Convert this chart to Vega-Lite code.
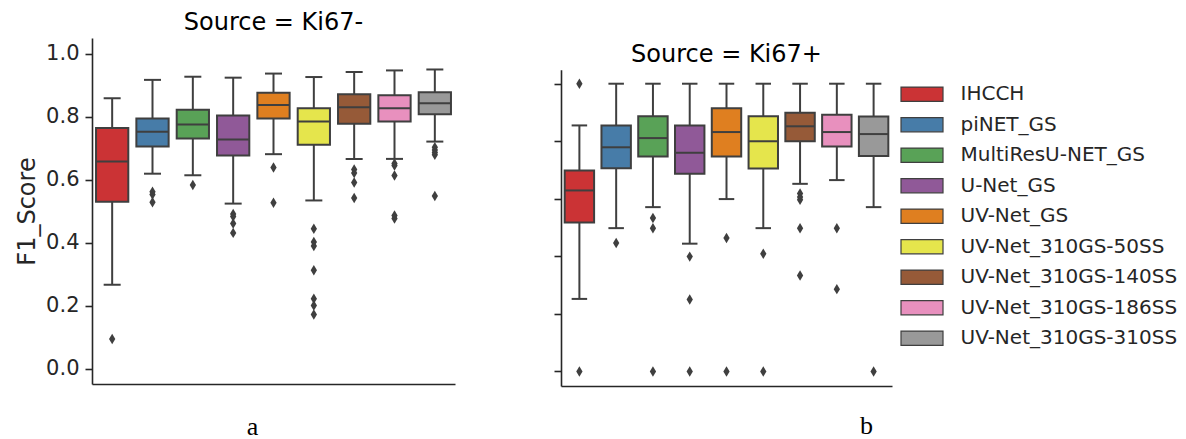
{
  "$schema": "https://vega.github.io/schema/vega-lite/v6.json",
  "background": "white",
  "padding": {"left": 15, "top": 11, "right": 0, "bottom": 0},
  "autosize": {"type": "pad"},
  "spacing": 98,
  "config": {
    "font": "DejaVu Sans",
    "view": {"stroke": null},
    "axis": {
      "domainColor": "#262626", "domainWidth": 1.6,
      "tickColor": "#262626", "tickWidth": 1.6, "tickSize": 7,
      "labelFontSize": 21, "labelColor": "#262626", "labelFont": "DejaVu Sans",
      "titleFontSize": 24, "titleFontWeight": "normal", "titleColor": "#262626", "titleFont": "DejaVu Sans",
      "grid": false
    }
  },
  "datasets": {
    "boxes": [
      {"Source": "Ki67-", "Model": "IHCCH", "lower": 0.266, "q1": 0.530, "median": 0.658, "q3": 0.764, "upper": 0.859},
      {"Source": "Ki67-", "Model": "piNET_GS", "lower": 0.619, "q1": 0.705, "median": 0.752, "q3": 0.794, "upper": 0.917},
      {"Source": "Ki67-", "Model": "MultiResU-NET_GS", "lower": 0.614, "q1": 0.731, "median": 0.775, "q3": 0.822, "upper": 0.927},
      {"Source": "Ki67-", "Model": "U-Net_GS", "lower": 0.524, "q1": 0.677, "median": 0.728, "q3": 0.804, "upper": 0.924},
      {"Source": "Ki67-", "Model": "UV-Net_GS", "lower": 0.681, "q1": 0.794, "median": 0.837, "q3": 0.876, "upper": 0.937},
      {"Source": "Ki67-", "Model": "UV-Net_310GS-50SS", "lower": 0.534, "q1": 0.711, "median": 0.785, "q3": 0.827, "upper": 0.926},
      {"Source": "Ki67-", "Model": "UV-Net_310GS-140SS", "lower": 0.666, "q1": 0.778, "median": 0.830, "q3": 0.871, "upper": 0.942},
      {"Source": "Ki67-", "Model": "UV-Net_310GS-186SS", "lower": 0.666, "q1": 0.785, "median": 0.827, "q3": 0.868, "upper": 0.947},
      {"Source": "Ki67-", "Model": "UV-Net_310GS-310SS", "lower": 0.721, "q1": 0.808, "median": 0.843, "q3": 0.878, "upper": 0.950},
      {"Source": "Ki67+", "Model": "IHCCH", "lower": 0.252, "q1": 0.518, "median": 0.629, "q3": 0.698, "upper": 0.855},
      {"Source": "Ki67+", "Model": "piNET_GS", "lower": 0.498, "q1": 0.706, "median": 0.779, "q3": 0.855, "upper": 1.0},
      {"Source": "Ki67+", "Model": "MultiResU-NET_GS", "lower": 0.571, "q1": 0.747, "median": 0.811, "q3": 0.887, "upper": 1.0},
      {"Source": "Ki67+", "Model": "U-Net_GS", "lower": 0.444, "q1": 0.687, "median": 0.760, "q3": 0.855, "upper": 1.0},
      {"Source": "Ki67+", "Model": "UV-Net_GS", "lower": 0.599, "q1": 0.747, "median": 0.832, "q3": 0.915, "upper": 1.0},
      {"Source": "Ki67+", "Model": "UV-Net_310GS-50SS", "lower": 0.498, "q1": 0.705, "median": 0.800, "q3": 0.887, "upper": 1.0},
      {"Source": "Ki67+", "Model": "UV-Net_310GS-140SS", "lower": 0.652, "q1": 0.800, "median": 0.852, "q3": 0.899, "upper": 1.0},
      {"Source": "Ki67+", "Model": "UV-Net_310GS-186SS", "lower": 0.665, "q1": 0.782, "median": 0.832, "q3": 0.892, "upper": 1.0},
      {"Source": "Ki67+", "Model": "UV-Net_310GS-310SS", "lower": 0.571, "q1": 0.749, "median": 0.825, "q3": 0.886, "upper": 1.0}
    ],
    "outliers": [
      {"Source": "Ki67-", "Model": "IHCCH", "F1_Score": 0.094},
      {"Source": "Ki67-", "Model": "piNET_GS", "F1_Score": 0.562},
      {"Source": "Ki67-", "Model": "piNET_GS", "F1_Score": 0.553},
      {"Source": "Ki67-", "Model": "piNET_GS", "F1_Score": 0.528},
      {"Source": "Ki67-", "Model": "MultiResU-NET_GS", "F1_Score": 0.583},
      {"Source": "Ki67-", "Model": "U-Net_GS", "F1_Score": 0.491},
      {"Source": "Ki67-", "Model": "U-Net_GS", "F1_Score": 0.483},
      {"Source": "Ki67-", "Model": "U-Net_GS", "F1_Score": 0.461},
      {"Source": "Ki67-", "Model": "U-Net_GS", "F1_Score": 0.431},
      {"Source": "Ki67-", "Model": "UV-Net_GS", "F1_Score": 0.639},
      {"Source": "Ki67-", "Model": "UV-Net_GS", "F1_Score": 0.527},
      {"Source": "Ki67-", "Model": "UV-Net_310GS-50SS", "F1_Score": 0.444},
      {"Source": "Ki67-", "Model": "UV-Net_310GS-50SS", "F1_Score": 0.402},
      {"Source": "Ki67-", "Model": "UV-Net_310GS-50SS", "F1_Score": 0.389},
      {"Source": "Ki67-", "Model": "UV-Net_310GS-50SS", "F1_Score": 0.312},
      {"Source": "Ki67-", "Model": "UV-Net_310GS-50SS", "F1_Score": 0.222},
      {"Source": "Ki67-", "Model": "UV-Net_310GS-50SS", "F1_Score": 0.200},
      {"Source": "Ki67-", "Model": "UV-Net_310GS-50SS", "F1_Score": 0.172},
      {"Source": "Ki67-", "Model": "UV-Net_310GS-140SS", "F1_Score": 0.632},
      {"Source": "Ki67-", "Model": "UV-Net_310GS-140SS", "F1_Score": 0.621},
      {"Source": "Ki67-", "Model": "UV-Net_310GS-140SS", "F1_Score": 0.591},
      {"Source": "Ki67-", "Model": "UV-Net_310GS-140SS", "F1_Score": 0.542},
      {"Source": "Ki67-", "Model": "UV-Net_310GS-186SS", "F1_Score": 0.651},
      {"Source": "Ki67-", "Model": "UV-Net_310GS-186SS", "F1_Score": 0.645},
      {"Source": "Ki67-", "Model": "UV-Net_310GS-186SS", "F1_Score": 0.613},
      {"Source": "Ki67-", "Model": "UV-Net_310GS-186SS", "F1_Score": 0.486},
      {"Source": "Ki67-", "Model": "UV-Net_310GS-186SS", "F1_Score": 0.477},
      {"Source": "Ki67-", "Model": "UV-Net_310GS-310SS", "F1_Score": 0.703},
      {"Source": "Ki67-", "Model": "UV-Net_310GS-310SS", "F1_Score": 0.694},
      {"Source": "Ki67-", "Model": "UV-Net_310GS-310SS", "F1_Score": 0.686},
      {"Source": "Ki67-", "Model": "UV-Net_310GS-310SS", "F1_Score": 0.679},
      {"Source": "Ki67-", "Model": "UV-Net_310GS-310SS", "F1_Score": 0.548},
      {"Source": "Ki67+", "Model": "IHCCH", "F1_Score": 1.0},
      {"Source": "Ki67+", "Model": "IHCCH", "F1_Score": 0.0},
      {"Source": "Ki67+", "Model": "piNET_GS", "F1_Score": 0.446},
      {"Source": "Ki67+", "Model": "MultiResU-NET_GS", "F1_Score": 0.533},
      {"Source": "Ki67+", "Model": "MultiResU-NET_GS", "F1_Score": 0.498},
      {"Source": "Ki67+", "Model": "MultiResU-NET_GS", "F1_Score": 0.0},
      {"Source": "Ki67+", "Model": "U-Net_GS", "F1_Score": 0.399},
      {"Source": "Ki67+", "Model": "U-Net_GS", "F1_Score": 0.250},
      {"Source": "Ki67+", "Model": "U-Net_GS", "F1_Score": 0.0},
      {"Source": "Ki67+", "Model": "UV-Net_GS", "F1_Score": 0.464},
      {"Source": "Ki67+", "Model": "UV-Net_GS", "F1_Score": 0.0},
      {"Source": "Ki67+", "Model": "UV-Net_310GS-50SS", "F1_Score": 0.409},
      {"Source": "Ki67+", "Model": "UV-Net_310GS-50SS", "F1_Score": 0.0},
      {"Source": "Ki67+", "Model": "UV-Net_310GS-140SS", "F1_Score": 0.618},
      {"Source": "Ki67+", "Model": "UV-Net_310GS-140SS", "F1_Score": 0.606},
      {"Source": "Ki67+", "Model": "UV-Net_310GS-140SS", "F1_Score": 0.597},
      {"Source": "Ki67+", "Model": "UV-Net_310GS-140SS", "F1_Score": 0.498},
      {"Source": "Ki67+", "Model": "UV-Net_310GS-140SS", "F1_Score": 0.333},
      {"Source": "Ki67+", "Model": "UV-Net_310GS-186SS", "F1_Score": 0.498},
      {"Source": "Ki67+", "Model": "UV-Net_310GS-186SS", "F1_Score": 0.286},
      {"Source": "Ki67+", "Model": "UV-Net_310GS-310SS", "F1_Score": 0.0}
    ]
  },
  "hconcat": [
    {
      "width": 363,
      "height": 346,
      "title": {"text": "Source = Ki67-", "fontSize": 24, "fontWeight": "normal", "anchor": "middle", "baseline": "bottom", "offset": -21, "color": "black", "font": "DejaVu Sans"},
      "encoding": {
        "x": {
          "field": "Model", "type": "nominal",
          "scale": {"domain": ["IHCCH", "piNET_GS", "MultiResU-NET_GS", "U-Net_GS", "UV-Net_GS", "UV-Net_310GS-50SS", "UV-Net_310GS-140SS", "UV-Net_310GS-186SS", "UV-Net_310GS-310SS"], "paddingInner": 0, "paddingOuter": 0},
          "axis": {"labels": false, "ticks": false, "title": "a", "titleFont": "Liberation Serif", "titleFontSize": 26, "titleColor": "black", "titleX": 160, "titleY": 50, "titleBaseline": "alphabetic", "titleAlign": "center"}
        }
      },
      "layer": [
        {
          "data": {"name": "boxes"},
          "transform": [{"filter": "datum.Source === 'Ki67-'"}],
          "mark": {"type": "rule", "color": "#3f3f3f", "strokeWidth": 2},
          "encoding": {
            "y": {"field": "lower", "type": "quantitative", "title": "F1_Score",
                  "scale": {"domain": [-0.049, 1.05], "nice": false, "zero": false},
                  "axis": {"values": [0, 0.2, 0.4, 0.6, 0.8, 1.0], "format": ".1f", "labelPadding": 6, "titlePadding": 6}},
            "y2": {"field": "upper"}
          }
        },
        {
          "data": {"name": "boxes"},
          "transform": [{"filter": "datum.Source === 'Ki67-'"}],
          "mark": {"type": "bar", "width": {"band": 0.8}, "stroke": "#3f3f3f", "strokeWidth": 2, "opacity": 1},
          "encoding": {
            "y": {"field": "q1", "type": "quantitative", "title": "F1_Score"},
            "y2": {"field": "q3"},
            "fill": {
              "field": "Model", "type": "nominal",
              "scale": {"domain": ["IHCCH", "piNET_GS", "MultiResU-NET_GS", "U-Net_GS", "UV-Net_GS", "UV-Net_310GS-50SS", "UV-Net_310GS-140SS", "UV-Net_310GS-186SS", "UV-Net_310GS-310SS"],
                        "range": ["#cb3335", "#477ca8", "#59a257", "#905998", "#df7f20", "#e5e54c", "#965a38", "#e890be", "#999999"]},
              "legend": {"orient": "none", "legendX": 818.5, "legendY": 44.7, "title": null,
                         "symbolType": "M-2,-0.68h4v1.36h-4z", "symbolSize": 441,
                         "symbolStrokeColor": "#3f3f3f", "symbolStrokeWidth": 1.2, "symbolOpacity": 1,
                         "labelFontSize": 20, "labelColor": "#262626", "labelOffset": 27, "rowPadding": 8.5, "labelLimit": 400}
            }
          }
        },
        {
          "data": {"name": "boxes"},
          "transform": [{"filter": "datum.Source === 'Ki67-'"}],
          "mark": {"type": "tick", "size": 32, "thickness": 2, "color": "#3f3f3f", "opacity": 1},
          "encoding": {"y": {"field": "median", "type": "quantitative", "title": "F1_Score"}}
        },
        {
          "data": {"name": "boxes"},
          "transform": [{"filter": "datum.Source === 'Ki67-'"}],
          "mark": {"type": "tick", "size": 17, "thickness": 2, "color": "#3f3f3f", "opacity": 1},
          "encoding": {"y": {"field": "lower", "type": "quantitative", "title": "F1_Score"}}
        },
        {
          "data": {"name": "boxes"},
          "transform": [{"filter": "datum.Source === 'Ki67-'"}],
          "mark": {"type": "tick", "size": 17, "thickness": 2, "color": "#3f3f3f", "opacity": 1},
          "encoding": {"y": {"field": "upper", "type": "quantitative", "title": "F1_Score"}}
        },
        {
          "data": {"name": "outliers"},
          "transform": [{"filter": "datum.Source === 'Ki67-'"}],
          "mark": {"type": "point", "shape": "M0,-1L0.6,0L0,1L-0.6,0Z", "size": 110, "filled": true, "color": "#3f3f3f", "opacity": 1},
          "encoding": {"y": {"field": "F1_Score", "type": "quantitative", "title": "F1_Score"}}
        }
      ]
    },
    {
      "width": 331,
      "height": 348,
      "title": {"text": "Source = Ki67+", "fontSize": 24, "fontWeight": "normal", "anchor": "middle", "baseline": "bottom", "offset": -52.7, "color": "black", "font": "DejaVu Sans"},
      "encoding": {
        "x": {
          "field": "Model", "type": "nominal",
          "scale": {"domain": ["IHCCH", "piNET_GS", "MultiResU-NET_GS", "U-Net_GS", "UV-Net_GS", "UV-Net_310GS-50SS", "UV-Net_310GS-140SS", "UV-Net_310GS-186SS", "UV-Net_310GS-310SS"], "paddingInner": 0, "paddingOuter": 0},
          "axis": {"labels": false, "ticks": false, "title": "b", "titleFont": "Liberation Serif", "titleFontSize": 26, "titleColor": "black", "titleX": 305, "titleY": 47.7, "titleBaseline": "alphabetic", "titleAlign": "center"}
        }
      },
      "layer": [
        {
          "data": {"name": "boxes"},
          "transform": [{"filter": "datum.Source === 'Ki67+'"}],
          "mark": {"type": "rule", "color": "#3f3f3f", "strokeWidth": 2},
          "encoding": {
            "y": {"field": "lower", "type": "quantitative", "title": null,
                  "scale": {"domain": [-0.0507, 1.0487], "range": [348, 31.7], "nice": false, "zero": false},
                  "axis": {"values": [0, 0.2, 0.4, 0.6, 0.8, 1.0], "labels": false, "title": null}},
            "y2": {"field": "upper"}
          }
        },
        {
          "data": {"name": "boxes"},
          "transform": [{"filter": "datum.Source === 'Ki67+'"}],
          "mark": {"type": "bar", "width": {"band": 0.8}, "stroke": "#3f3f3f", "strokeWidth": 2, "opacity": 1},
          "encoding": {
            "y": {"field": "q1", "type": "quantitative", "title": null},
            "y2": {"field": "q3"},
            "fill": {"field": "Model", "type": "nominal"}
          }
        },
        {
          "data": {"name": "boxes"},
          "transform": [{"filter": "datum.Source === 'Ki67+'"}],
          "mark": {"type": "tick", "size": 29.5, "thickness": 2, "color": "#3f3f3f", "opacity": 1},
          "encoding": {"y": {"field": "median", "type": "quantitative", "title": null}}
        },
        {
          "data": {"name": "boxes"},
          "transform": [{"filter": "datum.Source === 'Ki67+'"}],
          "mark": {"type": "tick", "size": 15.5, "thickness": 2, "color": "#3f3f3f", "opacity": 1},
          "encoding": {"y": {"field": "lower", "type": "quantitative", "title": null}}
        },
        {
          "data": {"name": "boxes"},
          "transform": [{"filter": "datum.Source === 'Ki67+'"}],
          "mark": {"type": "tick", "size": 15.5, "thickness": 2, "color": "#3f3f3f", "opacity": 1},
          "encoding": {"y": {"field": "upper", "type": "quantitative", "title": null}}
        },
        {
          "data": {"name": "outliers"},
          "transform": [{"filter": "datum.Source === 'Ki67+'"}],
          "mark": {"type": "point", "shape": "M0,-1L0.6,0L0,1L-0.6,0Z", "size": 110, "filled": true, "color": "#3f3f3f", "opacity": 1},
          "encoding": {"y": {"field": "F1_Score", "type": "quantitative", "title": null}}
        }
      ]
    }
  ],
  "resolve": {"scale": {"y": "independent", "x": "independent"}}
}
